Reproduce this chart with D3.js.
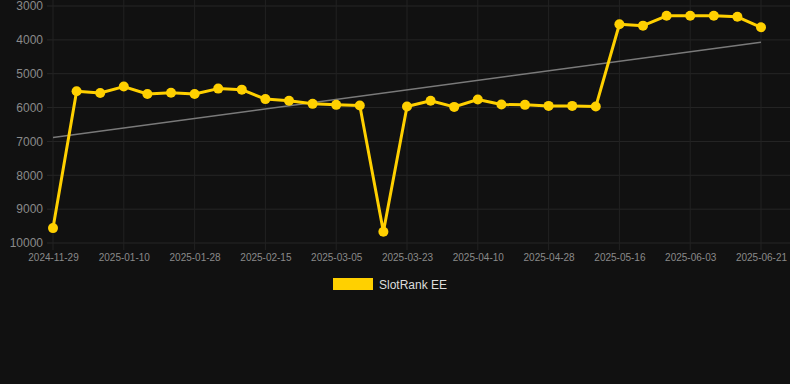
<!DOCTYPE html>
<html>
<head>
<meta charset="utf-8">
<script src="https://cdn.jsdelivr.net/npm/d3@7"></script>
<style>
  html, body { margin: 0; padding: 0; background: #111111; }
  svg { display: block; font-family: "Helvetica", "Liberation Sans", Arial, sans-serif; }
</style>
</head>
<body>
<div id="chart"></div>
<script>
// Chart data
const dates = [
    "2024-11-29", "2024-12-29", "2025-01-04", "2025-01-10", "2025-01-16", "2025-01-22",
    "2025-01-28", "2025-02-03", "2025-02-09", "2025-02-15", "2025-02-21", "2025-02-27",
    "2025-03-05", "2025-03-11", "2025-03-17", "2025-03-23", "2025-03-29", "2025-04-04",
    "2025-04-10", "2025-04-16", "2025-04-22", "2025-04-28", "2025-05-04", "2025-05-10",
    "2025-05-16", "2025-05-22", "2025-05-28", "2025-06-03", "2025-06-09", "2025-06-15",
    "2025-06-21"
];
const ranks = [
    9560, 5520, 5570, 5380, 5600, 5560,
    5600, 5440, 5470, 5750, 5800, 5890,
    5920, 5940, 9670, 5970, 5800, 5980,
    5760, 5910, 5920, 5950, 5950, 5970,
    3540, 3580, 3290, 3290, 3290, 3320,
    3630
];
const yTicks = [3000, 4000, 5000, 6000, 7000, 8000, 9000, 10000];
const seriesName = "SlotRank EE";

let width = 790, height = 384;
let margin = {top: 6, right: 29, bottom: 141, left: 53};

let svg = d3.select("#chart")
    .append("svg")
    .attr("width", width)
    .attr("height", height);

svg.append("rect")
    .attr("width", width)
    .attr("height", height)
    .attr("fill", "#111111");

// Scales: categorical dates along x, reversed rank on y
let x = d3.scalePoint()
    .domain(dates)
    .range([margin.left, width - margin.right]);
let y = d3.scaleLinear()
    .domain([3000, 10000])
    .range([margin.top, height - margin.bottom]);

// Only every third date gets a label
let xTickValues = dates.filter(function(d, i) { return i % 3 === 0; });

// Horizontal grid
svg.append("g")
    .attr("class", "y-grid")
    .selectAll("line")
    .data(yTicks)
    .enter().append("line")
    .attr("x1", margin.left - 6)
    .attr("x2", width)
    .attr("y1", function(d) { return y(d); })
    .attr("y2", function(d) { return y(d); })
    .attr("stroke", "#262626")
    .attr("stroke-width", 1);

// Vertical grid
svg.append("g")
    .attr("class", "x-grid")
    .selectAll("line")
    .data(xTickValues)
    .enter().append("line")
    .attr("x1", function(d) { return x(d); })
    .attr("x2", function(d) { return x(d); })
    .attr("y1", 0)
    .attr("y2", height - margin.bottom + 7)
    .attr("stroke", "#222222")
    .attr("stroke-width", 1);

// Y axis
let yAxis = svg.append("g")
    .attr("transform", `translate(${margin.left - 10}, 0)`)
    .call(d3.axisLeft(y).tickValues(yTicks).tickSize(0).tickPadding(0).tickFormat(d3.format("d")));
yAxis.select(".domain").remove();
yAxis.selectAll("text")
    .attr("fill", "#8a8a8a")
    .style("font-size", "12px");

// X axis
let xAxis = svg.append("g")
    .attr("transform", `translate(0, ${height - margin.bottom + 5})`)
    .call(d3.axisBottom(x).tickValues(xTickValues).tickSize(0).tickPadding(6));
xAxis.select(".domain").remove();
xAxis.selectAll("text")
    .attr("fill", "#8a8a8a")
    .style("font-size", "10px");

// Linear trend line (least squares over point index)
let n = ranks.length;
let meanI = d3.mean(ranks, function(d, i) { return i; });
let meanV = d3.mean(ranks);
let slope = d3.sum(ranks, function(d, i) { return (i - meanI) * (d - meanV); }) /
    d3.sum(ranks, function(d, i) { return (i - meanI) * (i - meanI); });
let intercept = meanV - slope * meanI;
svg.append("line")
    .attr("x1", x(dates[0]))
    .attr("y1", y(intercept))
    .attr("x2", x(dates[n - 1]))
    .attr("y2", y(intercept + slope * (n - 1)))
    .attr("stroke", "#7a7a7a")
    .attr("stroke-width", 1.5);

// Rank line
let line = d3.line()
    .x(function(d, i) { return x(dates[i]); })
    .y(function(d) { return y(d); });
svg.append("path")
    .datum(ranks)
    .attr("fill", "none")
    .attr("stroke", "#FFD000")
    .attr("stroke-width", 3)
    .attr("stroke-linejoin", "round")
    .attr("d", line);

svg.append("g")
    .selectAll("circle")
    .data(ranks)
    .enter().append("circle")
    .attr("cx", function(d, i) { return x(dates[i]); })
    .attr("cy", function(d) { return y(d); })
    .attr("r", 5)
    .attr("fill", "#FFD000");

// Legend
let legend = svg.append("g")
    .attr("transform", `translate(333, 278)`);
legend.append("rect")
    .attr("width", 40)
    .attr("height", 12)
    .attr("fill", "#FFD000");
legend.append("text")
    .attr("x", 46)
    .attr("y", 10.5)
    .attr("fill", "#dddddd")
    .style("font-size", "12px")
    .text(seriesName);
</script>
</body>
</html>
